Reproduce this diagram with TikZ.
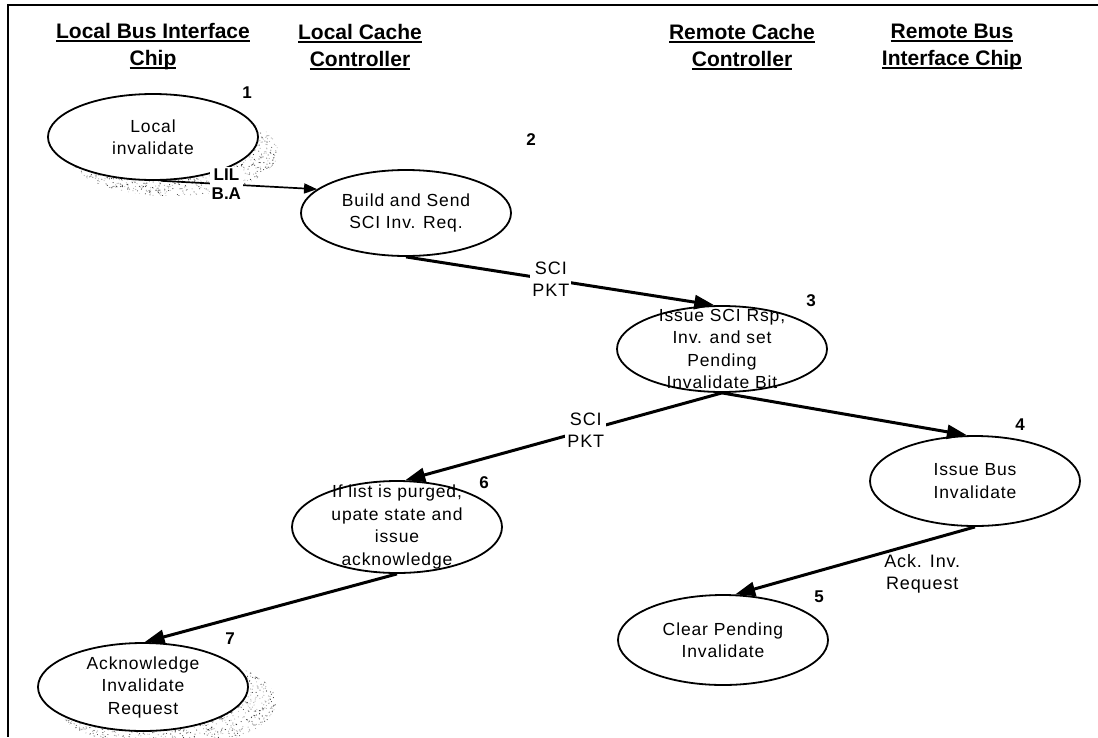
\documentclass[tikz,border=0pt]{standalone}
\usepackage{fontspec}
\setmainfont{Liberation Sans}
\newfontfamily\spacedsans[LetterSpace=5]{Liberation Sans}
\usetikzlibrary{arrows.meta,shapes.geometric}

% underlined heading word with a heavy rule
\newcommand\headline[1]{\setbox0=\hbox{#1}\rlap{\rule[-3.4pt]{\wd0}{1.9pt}}\box0}

\begin{document}
\begin{tikzpicture}[x=1pt,y=-1pt,
  state/.style={ellipse, draw, line width=1.8pt, fill=white,
    minimum width=210pt, minimum height=86pt, inner sep=0pt},
  stxt/.style={align=center, font=\spacedsans\fontsize{17.5}{22.5}\selectfont},
  head/.style={align=center, font=\fontsize{21}{27}\selectfont\bfseries},
  num/.style={font=\fontsize{17}{17}\selectfont\bfseries},
  flow/.style={line width=3pt, -{Triangle[length=20pt,width=14pt]}},
  thinflow/.style={line width=1.7pt, -{Triangle[length=13pt,width=10pt]}},
  tag/.style={fill=white, inner sep=2pt, align=center,
    font=\spacedsans\fontsize{18}{22}\selectfont},
  stippledark/.style={fill=gray!40!black},
  stipplelight/.style={fill=gray!60},
]
\useasboundingbox (0,0) rectangle (1098,737);

% frame
\coordinate (ftr) at (1098,5);
\coordinate (ftl) at (8,5);
\coordinate (fbl) at (8,737);
\draw[line width=2.2pt] (ftr) -- (ftl) -- (fbl);

% column headings
\node[head] (h1) at (153,47) {\headline{Local Bus Interface}\\\headline{Chip}};
\node[head] (h2) at (360,47) {\headline{Local Cache}\\\headline{Controller}};
\node[head] (h3) at (742,47) {\headline{Remote Cache}\\\headline{Controller}};
\node[head] (h4) at (952,47) {\headline{Remote Bus}\\\headline{Interface Chip}};

% stippled shadows, each layer one path of small dots
\pgfmathsetseed{4213}
\begin{scope}
  \clip (172,152) ellipse [x radius=106pt, y radius=44pt];
  \fill[stipplelight] foreach \i in {1,...,1400}
    {({172+212*(rnd-0.5)},{152+88*(rnd-0.5)}) circle (0.6pt)};
  \fill[stippledark] foreach \i in {1,...,900}
    {({172+212*(rnd-0.5)},{152+88*(rnd-0.5)}) circle (0.55pt)};
\end{scope}
\begin{scope}
  \clip (166,702) ellipse [x radius=110pt, y radius=46pt];
  \fill[stipplelight] foreach \i in {1,...,1400}
    {({166+220*(rnd-0.5)},{702+92*(rnd-0.5)}) circle (0.6pt)};
  \fill[stippledark] foreach \i in {1,...,900}
    {({166+220*(rnd-0.5)},{702+92*(rnd-0.5)}) circle (0.55pt)};
\end{scope}

% states
\node[state, label={[stxt]center:Local\\invalidate}] (n1) at (153,137) {};
\node[state, label={[stxt]center:Build and Send\\SCI Inv. Req.}] (n2) at (406,213) {};
\node[state, label={[stxt]center:Issue SCI Rsp,\\Inv. and set\\Pending\\Invalidate Bit}] (n3) at (722,349) {};
\node[state, minimum height=90pt, label={[stxt]center:Issue Bus\\Invalidate}] (n4) at (975,481) {};
\node[state, minimum height=90pt, label={[stxt]center:Clear Pending\\Invalidate}] (n5) at (723,640) {};
\node[state, minimum height=92pt, label={[stxt]center:If list is purged,\\upate state and\\issue\\acknowledge}] (n6) at (397,527) {};
\node[state, minimum height=88pt, label={[stxt]center:Acknowledge\\Invalidate\\Request}] (n7) at (143,687) {};

% step numbers
\node[num] (k1) at (247,93) {1};
\node[num] (k2) at (531,140) {2};
\node[num] (k3) at (811,301) {3};
\node[num] (k4) at (1020,425) {4};
\node[num] (k5) at (819,597) {5};
\node[num] (k6) at (484,483) {6};
\node[num] (k7) at (230,639) {7};

% transitions
\draw[thinflow] (n1.-80) -- node[tag, pos=0.42, font=\fontsize{17}{19}\selectfont\bfseries] (l12) {LIL\\B.A} (n2.165);
\draw[flow] (n2.south) -- node[tag, pos=0.47] (l23) {SCI\\PKT} (n3.100);
\draw[flow] (n3.south) -- (n4.100);
\draw[flow] (n3.south) -- node[tag, pos=0.43] (l36) {SCI\\PKT} (n6.80);
\draw[flow] (n4.south) -- node[tag, fill=none, pos=0.22, below=9pt] (l45) {Ack. Inv.\\Request} (n5.75);
\draw[flow] (n6.south) -- (n7.88);
\end{tikzpicture}
\end{document}
